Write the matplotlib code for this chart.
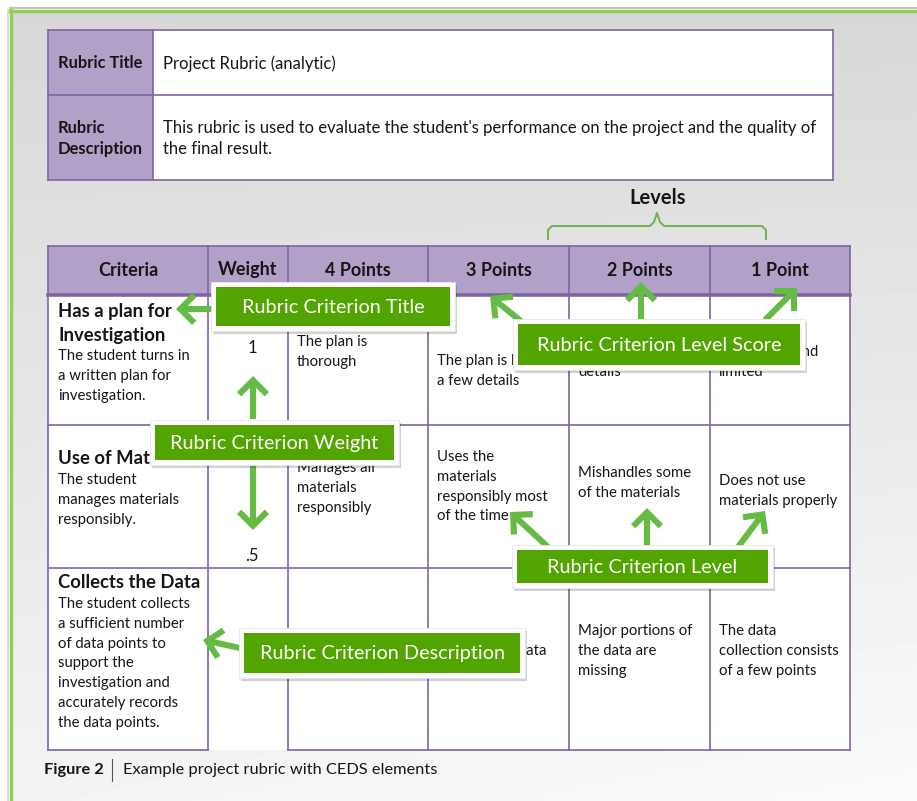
import numpy as np
import matplotlib
matplotlib.use('Agg')
import matplotlib.pyplot as plt
from matplotlib.patches import Rectangle, FancyArrowPatch

plt.rcParams['font.family'] = ['Lato', 'DejaVu Sans']

# ---- content ----
rubric_labels = ['Rubric Title', 'Rubric\nDescription']
rubric_values = ['Project Rubric (analytic)',
                 "This rubric is used to evaluate the student's performance on the project and the quality of\nthe final result."]

headers = ['Criteria', 'Weight', '4 Points', '3 Points', '2 Points', '1 Point']
criteria_titles = [['Has a plan for', 'Investigation'], ['Use of Materials'], ['Collects the Data']]
criteria_desc = [['The student turns in', 'a written plan for', 'investigation.'],
                 ['The student', 'manages materials', 'responsibly.'],
                 ['The student collects', 'a sufficient number', 'of data points to', 'support the',
                  'investigation and', 'accurately records', 'the data points.']]
weights = ['1', '.5', '']
level_text = [
    [['The plan is', 'thorough'], ['The plan is lacking', 'a few details'],
     ['The plan is missing key', 'details'], ['Plan is thin and', 'limited']],
    [['Manages all', 'materials', 'responsibly'], ['Uses the', 'materials', 'responsibly most', 'of the time'],
     ['Mishandles some', 'of the materials'], ['Does not use', 'materials properly']],
    [[], ['Gathers the data'],
     ['Major portions of', 'the data are', 'missing'], ['The data', 'collection consists', 'of a few points']],
]
callouts = ['Rubric Criterion Title', 'Rubric Criterion Level Score', 'Rubric Criterion Weight',
            'Rubric Criterion Level', 'Rubric Criterion Description']
caption_bold = 'Figure 2'
caption_text = 'Example project rubric with CEDS elements'

# ---- layout ----
PURPLE = '#8064a2'
LILAC = '#b1a0c7'
GREEN = '#52a500'
ARROW = '#66bb44'
INK = '#161616'
BODY = 10.7

col_x = [48, 208, 288, 428, 569, 710, 850]
row_y = [246, 295, 425, 568, 750]
title_y = [311, 458, 582]
desc_y = [356, 480, 604]
weight_y = [348, 556, 0]
level_y = [[342, 361, 352, 352], [468, 457, 473, 481], [0, 651, 631, 631]]
LINE = 19.8

fig = plt.figure(figsize=(9.17, 8.01), dpi=100)
ax = fig.add_axes([0, 0, 1, 1])
ax.set_xlim(0, 917)
ax.set_ylim(801, 0)
ax.axis('off')

# background gradient
gy = np.linspace(0, 1, 200)[:, None]
gx = np.linspace(0, 1, 200)[None, :]
grad = 0.845 + 0.11 * gy + 0.03 * gx * gy
ax.imshow(grad, cmap='gray', vmin=0, vmax=1, extent=(10, 917, 801, 10), aspect='auto', zorder=0)
ax.plot([10, 917], [8, 8], color='#c4c4c4', lw=1.5, zorder=1)
ax.plot([8, 8], [10, 801], color='#d4d4d4', lw=1.2, zorder=1)
ax.plot([10, 917], [10.5, 10.5], color='#92d050', lw=2.5, zorder=2)
ax.plot([10.5, 10.5], [10, 801], color='#92d050', lw=2.5, zorder=2)

# top table
tt_y = [30, 95, 180]
for i in range(2):
    ax.add_patch(Rectangle((48, tt_y[i]), 105, tt_y[i + 1] - tt_y[i], fc=LILAC, ec='none', zorder=2))
    ax.add_patch(Rectangle((153, tt_y[i]), 680, tt_y[i + 1] - tt_y[i], fc='white', ec='none', zorder=2))
    ax.text(58, (tt_y[i] + tt_y[i + 1]) / 2 + 1, rubric_labels[i], fontsize=11.9, fontweight='bold',
            color=INK, va='center', ha='left', linespacing=1.45, zorder=3)
    ax.text(163, (tt_y[i] + tt_y[i + 1]) / 2 + 1, rubric_values[i], fontsize=12,
            color=INK, va='center', ha='left', linespacing=1.45, zorder=3)
for y in tt_y:
    ax.plot([48, 833], [y, y], color=PURPLE, lw=1.2, zorder=3)
for x in [48, 153, 833]:
    ax.plot([x, x], [30, 180], color=PURPLE, lw=1.2, zorder=3)

# Levels brace
ax.text(658, 198, 'Levels', fontsize=14.5, fontweight='bold', color=INK, ha='center', va='center', zorder=3)
ax.plot([548, 548, 552, 650, 654, 657, 660, 664, 762, 766, 766],
        [239, 230, 226, 226, 222, 213, 222, 226, 226, 230, 239],
        color='#70b050', lw=1.4, zorder=3)

# main table
ax.add_patch(Rectangle((48, row_y[0]), 802, row_y[1] - row_y[0], fc=LILAC, ec='none', zorder=2))
ax.add_patch(Rectangle((48, row_y[1]), 802, row_y[4] - row_y[1], fc='white', ec='none', zorder=2))
for j, h in enumerate(headers):
    ax.text((col_x[j] + col_x[j + 1]) / 2, 270, h, fontsize=13, fontweight='bold', color=INK,
            ha='center', va='center', zorder=3)
for x in col_x:
    ax.plot([x, x], [row_y[0], row_y[4]], color=PURPLE, lw=1.2, zorder=3)
ax.plot([48, 850], [row_y[0], row_y[0]], color=PURPLE, lw=1.2, zorder=3)
ax.plot([48, 850], [row_y[1], row_y[1]], color=PURPLE, lw=2.6, zorder=3)
for y in row_y[2:4]:
    ax.plot([48, 850], [y, y], color=PURPLE, lw=1.2, zorder=3)
ax.plot([48, 208], [row_y[4], row_y[4]], color=PURPLE, lw=1.2, zorder=3)
ax.plot([288, 850], [row_y[4], row_y[4]], color=PURPLE, lw=1.2, zorder=3)

for r in range(3):
    for k, line in enumerate(criteria_titles[r]):
        ax.text(58, title_y[r] + k * 24, line, fontsize=13.3, fontweight='bold', color=INK,
                ha='left', va='center', zorder=3)
    for k, line in enumerate(criteria_desc[r]):
        ax.text(58, desc_y[r] + k * LINE, line, fontsize=BODY, color=INK, ha='left', va='center', zorder=3)
    if weights[r]:
        ax.text(252, weight_y[r], weights[r], fontsize=12, color=INK, ha='center', va='center', zorder=3)
    for c in range(4):
        for k, line in enumerate(level_text[r][c]):
            ax.text(col_x[c + 2] + 9, level_y[r][c] + k * LINE, line, fontsize=BODY, color=INK,
                    ha='left', va='center', zorder=3)

# caption
ax.text(44, 770, caption_bold, fontsize=11.8, fontweight='bold', color=INK, ha='left', va='center', zorder=3)
ax.plot([112, 112], [759, 781], color='#555555', lw=0.8, zorder=3)
ax.text(123, 770, caption_text, fontsize=11.8, color=INK, ha='left', va='center', zorder=3)

# callouts: inner green box (x0, y0, x1, y1)
boxes = [(216, 287, 450, 326), (518, 324, 800, 365), (155, 425, 394, 460),
         (517, 550, 768, 583), (244, 633, 520, 673)]
arrows = [
    [((212, 309), (176, 309))],
    [((522, 322), (490, 296)), ((641, 322), (641, 282)), ((765, 320), (797, 288))],
    [((253, 419), (253, 376)), ((253, 466), (253, 530))],
    [((548, 547), (510, 512)), ((647, 547), (647, 508)), ((738, 547), (765, 511))],
    [((240, 648), (203, 640))],
]

for (x0, y0, x1, y1), label, arr in zip(boxes, callouts, arrows):
    for a, b in arr:
        ax.add_patch(FancyArrowPatch(a, b, arrowstyle='->,head_length=0.5,head_width=0.5',
                                     mutation_scale=20, lw=4.4, color=ARROW, zorder=5,
                                     shrinkA=0, shrinkB=0, capstyle='butt', joinstyle='miter'))
    pad = 5
    ax.add_patch(Rectangle((x0 - pad + 2, y0 - pad + 3), x1 - x0 + 2 * pad, y1 - y0 + 2 * pad,
                           fc='#000000', alpha=0.18, ec='none', zorder=6))
    ax.add_patch(Rectangle((x0 - pad, y0 - pad), x1 - x0 + 2 * pad, y1 - y0 + 2 * pad,
                           fc='white', ec='#e6e6e6', lw=0.6, zorder=7))
    ax.add_patch(Rectangle((x0, y0), x1 - x0, y1 - y0, fc=GREEN, ec='none', zorder=8))
    ax.text((x0 + x1) / 2, (y0 + y1) / 2 + 1, label, fontsize=14.3, color='white',
            ha='center', va='center', zorder=9)

fig.savefig('out.png', dpi=100)
